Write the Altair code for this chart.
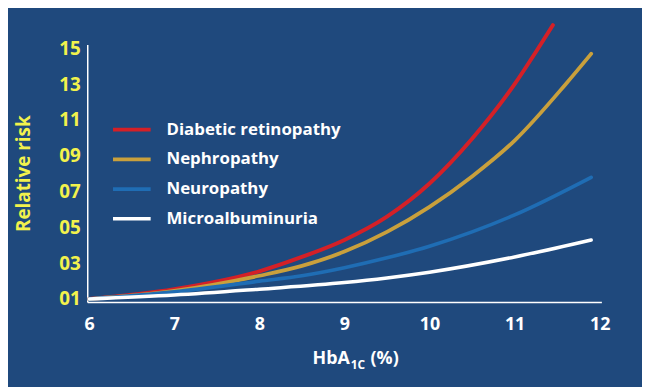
import altair as alt
import pandas as pd

# ---- data ----
series = ["Diabetic retinopathy", "Nephropathy", "Neuropathy", "Microalbuminuria"]
colors = ["#D42027", "#C9A03C", "#1F6DB4", "#FFFFFF"]
widths = [4, 3.5, 3, 4]

retino_x = [6, 7, 8, 8.5, 9, 9.5, 10, 10.5, 11, 11.25, 11.45]
retino_y = [1, 1.55, 2.55, 3.35, 4.3, 5.6, 7.45, 9.95, 13.0, 14.8, 16.3]
nephro_x = [6, 7, 8, 8.5, 9, 9.5, 10, 10.5, 11, 11.6, 11.9]
nephro_y = [1, 1.45, 2.3, 2.85, 3.65, 4.75, 6.15, 7.85, 9.85, 13.0, 14.7]
neuro_x = [6, 7, 8, 8.5, 9, 9.5, 10, 10.5, 11, 11.9]
neuro_y = [1, 1.4, 2.0, 2.3, 2.75, 3.3, 3.95, 4.75, 5.7, 7.8]
micro_x = [6, 7, 8, 9, 9.5, 10, 11, 11.9]
micro_y = [1, 1.22, 1.55, 1.92, 2.18, 2.5, 3.35, 4.3]

x_ticks = [6, 7, 8, 9, 10, 11, 12]
y_ticks = [1, 3, 5, 7, 9, 11, 13, 15]

title_main = "HbA"
title_sub = "1C"
title_rest = "(%)"
y_title = "Relative risk"

BG = "#1F497D"
YEL = "#F2F24C"
FONT = "Open Sans"

rows = []
for name, xs, ys in [
    (series[0], retino_x, retino_y),
    (series[1], nephro_x, nephro_y),
    (series[2], neuro_x, neuro_y),
    (series[3], micro_x, micro_y),
]:
    for xv, yv in zip(xs, ys):
        rows.append({"series": name, "x": xv, "y": yv})
df = pd.DataFrame(rows)

lines = alt.Chart(df).mark_line(interpolate="monotone", strokeCap="round").encode(
    x=alt.X(
        "x:Q",
        scale=alt.Scale(domain=[5.977, 12.02], nice=False, zero=False),
        axis=alt.Axis(
            values=x_ticks, title=None, ticks=False, grid=False,
            domainColor="white", domainWidth=1.5,
            labelColor="white", labelFont=FONT, labelFontWeight="bold",
            labelFontSize=18, labelPadding=14,
        ),
    ),
    y=alt.Y(
        "y:Q",
        scale=alt.Scale(domain=[0.834, 15.22], nice=False, zero=False),
        axis=alt.Axis(
            values=y_ticks, title=y_title, ticks=False, grid=False,
            labelExpr="datum.value < 10 ? '0' + datum.value : '' + datum.value",
            domainColor="white", domainWidth=1.5,
            labelColor=YEL, labelFont=FONT, labelFontWeight="bold",
            labelFontSize=19, labelPadding=7,
            titleColor=YEL, titleFont=FONT, titleFontWeight="bold",
            titleFontSize=19, titlePadding=26,
        ),
    ),
    color=alt.Color(
        "series:N",
        sort=series,
        scale=alt.Scale(domain=series, range=colors),
        legend=alt.Legend(
            title=None, orient="none", legendX=24, legendY=65,
            symbolType="stroke", symbolSize=1444, symbolStrokeWidth=4,
            labelColor="white", labelFont=FONT, labelFontWeight="bold",
            labelFontSize=17, labelOffset=14, rowPadding=1, labelLimit=400,
        ),
    ),
    strokeWidth=alt.StrokeWidth(
        "series:N", scale=alt.Scale(domain=series, range=widths), legend=None
    ),
    order=alt.Order("x:Q"),
)

t_main = alt.Chart(pd.DataFrame({"t": [title_main]})).mark_text(
    align="right", baseline="alphabetic", color="white", font=FONT,
    fontWeight="bold", fontSize=18,
).encode(text="t:N", x=alt.value(265), y=alt.value(323))
t_sub = alt.Chart(pd.DataFrame({"t": [title_sub]})).mark_text(
    align="left", baseline="alphabetic", color="white", font=FONT,
    fontWeight="bold", fontSize=12,
).encode(text="t:N", x=alt.value(266), y=alt.value(328))
t_rest = alt.Chart(pd.DataFrame({"t": [title_rest]})).mark_text(
    align="left", baseline="alphabetic", color="white", font=FONT,
    fontWeight="bold", fontSize=18,
).encode(text="t:N", x=alt.value(286), y=alt.value(323))

chart = alt.layer(lines, t_main, t_sub, t_rest).properties(
    width=519, height=260,
    autosize=alt.AutoSizeParams(type="none"),
    padding={"left": 80, "top": 35, "right": 41, "bottom": 84},
    background=BG,
).configure_view(stroke=None)

chart.save("out.html", embed_options={"renderer": "svg", "actions": False})
